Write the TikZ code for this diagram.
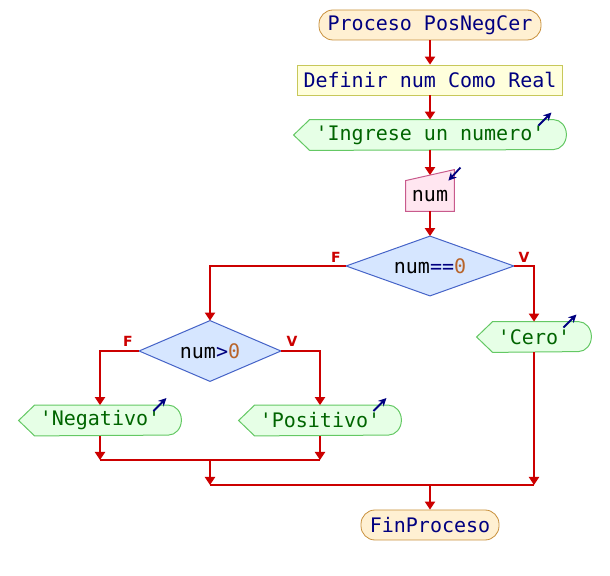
\documentclass[tikz,border=0pt]{standalone}
\usepackage{fontspec}
\setmonofont{DejaVu Sans Mono}
\setsansfont{DejaVu Sans}
\usepackage{xcolor}
\usepackage{tikz}
\usetikzlibrary{arrows.meta,backgrounds}

\definecolor{flowred}{HTML}{CC0000}
\definecolor{kwblue}{HTML}{000080}
\definecolor{strgreen}{HTML}{006400}
\definecolor{numbrown}{HTML}{B8642A}
\definecolor{procfill}{HTML}{FFF0D2}
\definecolor{procline}{HTML}{C8903C}
\definecolor{deffill}{HTML}{FFFFDC}
\definecolor{defline}{HTML}{C8C85A}
\definecolor{outfillc}{HTML}{E6FFE6}
\definecolor{outline}{HTML}{64C864}
\definecolor{infill}{HTML}{FFE6F0}
\definecolor{inline}{HTML}{C85A8C}
\definecolor{diafillc}{HTML}{D6E6FF}
\definecolor{dialine}{HTML}{4664C8}

\newcommand{\outshape}[1]{%
    \begin{scope}[on background layer]
        \draw[outfill] (#1.west) -- ([xshift=8pt]#1.north west) -- ([xshift=-6.5pt]#1.north east)
            arc[start angle=90, end angle=-90, x radius=6.5pt, y radius=7.5pt]
            -- ([xshift=8pt]#1.south west) -- cycle;
    \end{scope}
    \draw[icon] ([xshift=-14pt,yshift=-3pt]#1.north east) -- ([xshift=-7.5pt,yshift=3.5pt]#1.north east);
}
\newcommand{\diashape}[1]{%
    \begin{scope}[on background layer]
        \draw[diafill] (#1.west) -- (#1.north) -- (#1.east) -- (#1.south) -- cycle;
    \end{scope}
}

\begin{document}
\begin{tikzpicture}[x=0.5pt, y=-0.5pt,
        font=\ttfamily\fontsize{10pt}{12pt}\selectfont,
        procbox/.style={draw=procline, fill=procfill, rounded corners=7pt,
            minimum height=15pt, inner sep=0pt, text=kwblue},
        defbox/.style={draw=defline, fill=deffill, minimum height=15pt,
            minimum width=132.5pt, inner sep=0pt, text=kwblue},
        outbox/.style={minimum height=15pt, inner sep=0pt, text=strgreen},
        outfill/.style={draw=outline, fill=outfillc, line width=0.5pt},
        inbox/.style={draw=inline, fill=infill, line width=0.5pt},
        diabox/.style={minimum height=29.5pt, inner sep=0pt},
        diafill/.style={draw=dialine, fill=diafillc, line width=0.5pt},
        icon/.style={draw=kwblue, line width=0.9pt, -{Stealth[length=4pt,width=4pt]}},
        flow/.style={draw=flowred, line width=1pt, -{Triangle[length=4pt,width=5pt]}},
        line/.style={draw=flowred, line width=1pt},
        tflag/.style={text=flowred, font=\sffamily\bfseries\fontsize{7pt}{8pt}\selectfont}]
    \useasboundingbox (0,0) rectangle (610,576);

    \node[procbox, minimum width=111pt] (ini) at (430,25) {Proceso PosNegCer};
    \node[defbox] (def) at (430,80) {Definir num Como Real};
    \node[outbox, minimum width=136pt] (ingr) at (430,135) {'Ingrese un numero'};
    \outshape{ingr}

    \node[minimum width=24pt, minimum height=15pt, inner sep=0pt] (leer) at (430,196) {num};
    \begin{scope}[on background layer]
        \draw[inbox] (leer.south west) -- (leer.north west) -- ([yshift=5.5pt]leer.north east) -- (leer.south east) -- cycle;
    \end{scope}
    \draw[icon] ([xshift=3pt,yshift=6.5pt]leer.north east) -- ([xshift=-3pt]leer.north east);

    \node[diabox, minimum width=83.5pt] (d1) at (430,266) {num\textcolor{kwblue}{==}\textcolor{numbrown}{0}};
    \diashape{d1}
    \node[diabox, minimum width=70.5pt, minimum height=30pt] (d2) at (210,351) {num\textcolor{kwblue}{>}\textcolor{numbrown}{0}};
    \diashape{d2}

    \node[outbox, minimum width=57pt] (cero) at (534,337) {'Cero'};
    \outshape{cero}
    \node[outbox, minimum width=81pt] (neg) at (100,420.5) {'Negativo'};
    \outshape{neg}
    \node[outbox, minimum width=81pt] (pos) at (320,420.5) {'Positivo'};
    \outshape{pos}

    \node[procbox, minimum width=69pt] (fin) at (430,525) {FinProceso};

    \node[tflag] (f1) at (336,257) {F};
    \node[tflag] (v1) at (524,257) {V};
    \node[tflag] (f2) at (128,341) {F};
    \node[tflag] (v2) at (292,341) {V};

    \coordinate (j1l) at (100,460);
    \coordinate (j1r) at (320,460);
    \coordinate (j1) at (210,460);
    \coordinate (j2) at (210,485);
    \coordinate (j2r) at (534,485);
    \coordinate (j3) at (430,485);

    \draw[flow] (ini) -- (def);
    \draw[flow] (def) -- (ingr);
    \draw[flow] (ingr) -- ([yshift=2.75pt]leer.north);
    \draw[flow] (leer) -- (d1.north);
    \draw[flow] (d1.west) -| (d2.north);
    \draw[flow] (d1.east) -| (cero.north);
    \draw[flow] (d2.west) -| (neg.north);
    \draw[flow] (d2.east) -| (pos.north);
    \draw[flow] (neg.south) -- (j1l);
    \draw[flow] (pos.south) -- (j1r);
    \draw[line] (j1l) -- (j1r);
    \draw[flow] (j1) -- (j2);
    \draw[flow] (cero.south) -- (j2r);
    \draw[line] (j2) -- (j2r);
    \draw[flow] (j3) -- (fin.north);
\end{tikzpicture}
\end{document}
